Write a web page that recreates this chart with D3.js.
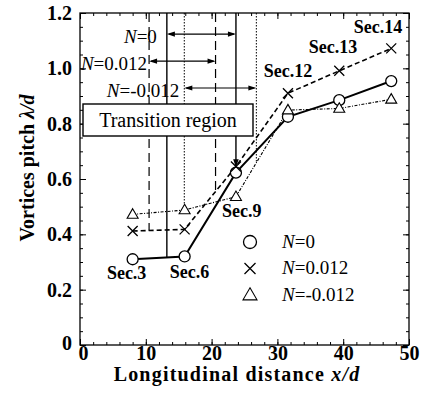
<!DOCTYPE html>
<html>
<head>
<meta charset="utf-8">
<script src="https://cdn.jsdelivr.net/npm/d3@7/dist/d3.min.js"></script>
<style>
  html, body { margin: 0; padding: 0; background: #fff; }
  svg { display: block; }
  text { font-family: "Liberation Serif", "Times New Roman", serif; fill: #000; }
</style>
</head>
<body>
<svg id="chart" width="426" height="396"></svg>
<script>
// Measurement sections along the channel (x/d)
const sections = ["Sec.3", "Sec.6", "Sec.9", "Sec.12", "Sec.13", "Sec.14"];
const sectionX = [8.0, 15.9, 23.7, 31.6, 39.4, 47.3];

// Vortex pitch λ/d for each rotation number N
const pitchN0 = [0.31, 0.32, 0.623, 0.825, 0.885, 0.954];
const pitchNpos = [0.412, 0.418, 0.645, 0.91, 0.991, 1.072];
const pitchNneg = [0.472, 0.488, 0.536, 0.849, 0.855, 0.888];

// Transition region bounds (x/d) and the level of each bracket
const seriesNames = ["N=0", "N=0.012", "N=-0.012"];
const transStart = [13.2, 10.5, 15.85];
const transEnd = [23.7, 20.6, 26.8];
const bracketLevel = [1.124, 1.026, 0.929];

const xTicks = [0, 10, 20, 30, 40, 50];
const yTicks = [0, 0.2, 0.4, 0.6, 0.8, 1.0, 1.2];

const svg = d3.select("#chart");
const x = d3.scaleLinear().domain([0, 50]).range([80, 409]);
const y = d3.scaleLinear().domain([0, 1.2]).range([345, 13]);

const FONT = 19;

// ---- axes: ticks inward on all four sides ----
const xMinor = d3.range(0, 50.01, 2);
const yMinor = d3.range(0, 1.2001, 0.05);

function styleAxis(g) {
  g.select(".domain").remove();
  g.selectAll("line").attr("stroke", "#000").attr("stroke-width", 1);
}
svg.append("g").attr("transform", `translate(0,${y(0)})`)
  .call(d3.axisBottom(x).tickValues(xMinor).tickSize(-3).tickFormat(""))
  .call(styleAxis);
svg.append("g").attr("transform", `translate(0,${y(1.2)})`)
  .call(d3.axisTop(x).tickValues(xMinor).tickSize(-3).tickFormat(""))
  .call(styleAxis);
svg.append("g").attr("transform", `translate(${x(0)},0)`)
  .call(d3.axisLeft(y).tickValues(yMinor).tickSize(-3).tickFormat(""))
  .call(styleAxis);
svg.append("g").attr("transform", `translate(${x(50)},0)`)
  .call(d3.axisRight(y).tickValues(yMinor).tickSize(-3).tickFormat(""))
  .call(styleAxis);

const xAxis = svg.append("g").attr("transform", `translate(0,${y(0)})`)
  .call(d3.axisBottom(x).tickValues(xTicks).tickSize(-6).tickPadding(1).tickFormat(d3.format("d")))
  .call(styleAxis);
svg.append("g").attr("transform", `translate(0,${y(1.2)})`)
  .call(d3.axisTop(x).tickValues(xTicks).tickSize(-6).tickFormat(""))
  .call(styleAxis);
const yAxis = svg.append("g").attr("transform", `translate(${x(0)},0)`)
  .call(d3.axisLeft(y).tickValues(yTicks).tickSize(-6).tickPadding(8)
    .tickFormat(d => d === 0 ? "0" : d.toFixed(1)))
  .call(styleAxis);
svg.append("g").attr("transform", `translate(${x(50)},0)`)
  .call(d3.axisRight(y).tickValues(yTicks).tickSize(-6).tickFormat(""))
  .call(styleAxis);

[xAxis, yAxis].forEach(g => g.selectAll("text")
  .attr("font-family", "Liberation Serif").attr("font-size", 20)
  .attr("font-weight", "bold").attr("fill", "#000"));
// nudge the shared corner labels apart
xAxis.selectAll(".tick").filter(d => d === 0).select("text").attr("dx", 3);
yAxis.selectAll(".tick").filter(d => d === 0).select("text").attr("dy", "0.2em");

// frame
svg.append("rect")
  .attr("x", x(0)).attr("y", y(1.2))
  .attr("width", x(50) - x(0)).attr("height", y(0) - y(1.2))
  .attr("fill", "none").attr("stroke", "#000").attr("stroke-width", 1.3);

// axis titles
svg.append("text")
  .attr("x", 237).attr("y", 381)
  .attr("text-anchor", "middle").attr("font-size", 20).attr("font-weight", "bold")
  .attr("letter-spacing", 1.2)
  .call(t => {
    t.append("tspan").text("Longitudinal distance ");
    t.append("tspan").attr("font-style", "italic").text("x/d");
  });
svg.append("text")
  .attr("transform", "translate(34,168) rotate(-90)")
  .attr("text-anchor", "middle").attr("font-size", 20).attr("font-weight", "bold")
  .call(t => {
    t.append("tspan").text("Vortices pitch ");
    t.append("tspan").attr("font-style", "italic").text("λ/d");
  });

// ---- series ----
const series = [
  { name: seriesNames[0], values: pitchN0, marker: "circle", dash: null, width: 2 },
  { name: seriesNames[1], values: pitchNpos, marker: "cross", dash: "5,3", width: 1.6 },
  { name: seriesNames[2], values: pitchNneg, marker: "triangle", dash: "3,1.5,1,1.5", width: 1.1 }
];

function valueAt(values, xv) {
  return d3.scaleLinear().domain(sectionX).range(values)(xv);
}

// ---- transition region boundaries ----
const boundaryDash = [null, "9,5", "1.5,1.5"];
const boundaryWidth = [1.4, 1.2, 1];
series.forEach((s, i) => {
  [transStart[i], transEnd[i]].forEach((xv, j) => {
    let yEnd = y(valueAt(s.values, xv));
    const arrowDown = (i === 0 && j === 1);
    if (arrowDown) yEnd -= 5.5;
    svg.append("line")
      .attr("x1", x(xv)).attr("x2", x(xv))
      .attr("y1", y(1.2)).attr("y2", yEnd)
      .attr("stroke", "#000").attr("stroke-width", boundaryWidth[i])
      .attr("stroke-dasharray", boundaryDash[i]);
    if (arrowDown) {
      svg.append("path")
        .attr("d", `M${x(xv)},${yEnd} l-2.8,-8 l5.6,0 Z`)
        .attr("fill", "#000");
    }
  });
});

// double arrows spanning each transition region
const labelGap = [10, 2, 5];
series.forEach((s, i) => {
  const x1 = x(transStart[i]), x2 = x(transEnd[i]), yy = y(bracketLevel[i]);
  svg.append("line").attr("x1", x1 + 2).attr("x2", x2 - 2)
    .attr("y1", yy).attr("y2", yy).attr("stroke", "#000").attr("stroke-width", 1.2);
  svg.append("path").attr("d", `M${x1},${yy} l8,-2.6 l0,5.2 Z`).attr("fill", "#000");
  svg.append("path").attr("d", `M${x2},${yy} l-8,-2.6 l0,5.2 Z`).attr("fill", "#000");
  svg.append("text")
    .attr("x", x1 - labelGap[i]).attr("y", yy + 3.1)
    .attr("dy", "0.3em")
    .attr("text-anchor", "end").attr("font-size", FONT)
    .call(t => {
      t.append("tspan").attr("font-style", "italic").text("N");
      t.append("tspan").text(s.name.slice(1));
    });
});

// "Transition region" box
const box = svg.append("g");
box.append("rect").attr("x", 83).attr("y", 104).attr("width", 170).attr("height", 32)
  .attr("fill", "#fff").attr("stroke", "#000").attr("stroke-width", 1.4);
box.append("text").attr("x", 168).attr("y", 127).attr("text-anchor", "middle")
  .attr("font-size", 20).text("Transition region");

// lines
series.forEach(s => {
  const line = d3.line().x((d, i) => x(sectionX[i])).y(d => y(d));
  svg.append("path").datum(s.values)
    .attr("d", line)
    .attr("fill", "none").attr("stroke", "#000")
    .attr("stroke-width", s.width)
    .attr("stroke-dasharray", s.dash);
});

// markers
function drawMarker(g, type, cx, cy, size) {
  if (type === "circle") {
    g.append("circle").attr("cx", cx).attr("cy", cy).attr("r", size / 2)
      .attr("fill", "#fff").attr("stroke", "#000").attr("stroke-width", 1.3);
  } else if (type === "cross") {
    const h = size / 2;
    g.append("path").attr("d", `M${cx - h},${cy - h}L${cx + h},${cy + h}M${cx - h},${cy + h}L${cx + h},${cy - h}`)
      .attr("stroke", "#000").attr("stroke-width", 1.3).attr("fill", "none");
  } else {
    const h = size / 2, ht = size * 0.866;
    g.append("path").attr("d", `M${cx},${cy - ht * 0.6}L${cx + h},${cy + ht * 0.4}L${cx - h},${cy + ht * 0.4}Z`)
      .attr("fill", "#fff").attr("stroke", "#000").attr("stroke-width", 1.1);
  }
}
const markerSize = { circle: 11, cross: 10, triangle: 11 };
series.forEach(s => {
  s.values.forEach((v, i) => drawMarker(svg, s.marker, x(sectionX[i]), y(v), markerSize[s.marker]));
});

// section labels
const secOffsets = [[-6, 20, "middle"], [5, 22, "middle"], [-14, 20, "start"],
                    [0, -16, "middle"], [18, -18, "end"], [11, -15, "end"]];
const secRef = [pitchN0, pitchN0, pitchNneg, pitchNpos, pitchNpos, pitchNpos];
sections.forEach((name, i) => {
  const [dx, dy, anchor] = secOffsets[i];
  svg.append("text")
    .attr("x", x(sectionX[i]) + dx).attr("y", y(secRef[i][i]) + dy)
    .attr("text-anchor", anchor).attr("font-size", 18).attr("font-weight", "bold")
    .text(name);
});

// legend
const legend = svg.append("g").attr("transform", "translate(250,242)");
series.forEach((s, i) => {
  const cy = i * 26.5;
  drawMarker(legend, s.marker, 0, cy, s.marker === "circle" ? 13 : (s.marker === "cross" ? 11 : 14));
  legend.append("text").attr("x", 32).attr("y", cy + 5.5).attr("font-size", FONT)
    .call(t => {
      t.append("tspan").attr("font-style", "italic").text("N");
      t.append("tspan").text(s.name.slice(1));
    });
});
</script>
</body>
</html>
